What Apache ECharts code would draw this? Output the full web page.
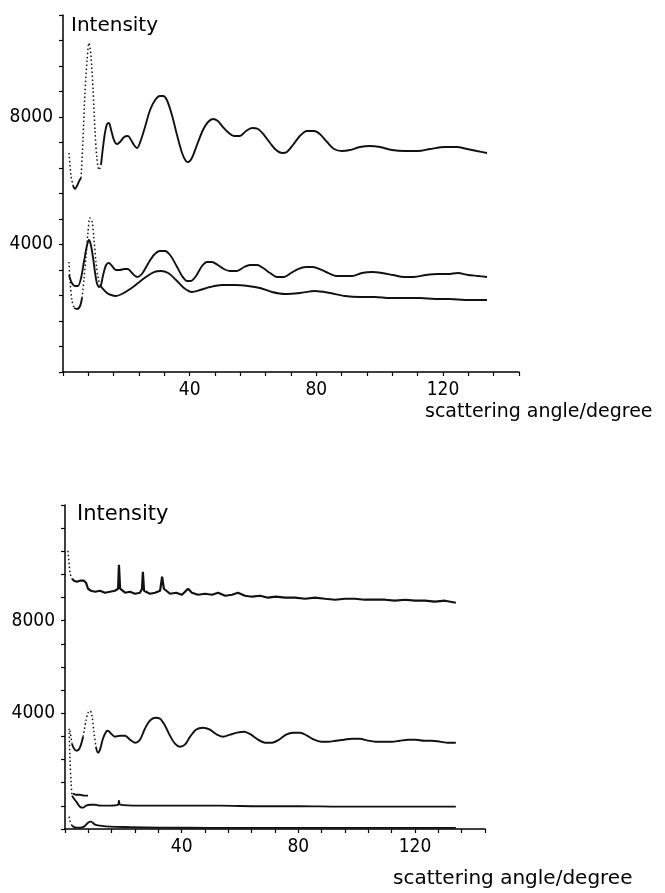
<!DOCTYPE html>
<html><head><meta charset="utf-8">
<script src="https://cdn.jsdelivr.net/npm/echarts@6/dist/echarts.min.js"></script>
<style>html,body{margin:0;padding:0;background:#fff}#c{width:665px;height:893px}</style>
</head><body><div id="c"></div>
<script>
// ---------- DATA (scattering angle in degrees, intensity) ----------
const xTickLabels = [40, 80, 120];
const topYTickLabels = [4000, 8000];
const bottomYTickLabels = [4000, 8000];

// Top panel, upper curve
const topUpperAngle = [1.9,2.5,3.2,3.8,4.4,5.1,5.7,6.3,6.9,7.6,8.2,8.8,9.5,10.1,10.7,11.4,12.0,12.6,13.3,13.9,14.5,15.2,16.1,17.1,18.0,19.3,20.5,21.5,22.4,23.4,24.6,25.9,27.5,29.1,30.6,31.6,32.8,34.4,36.0,37.6,38.8,39.5,40.7,42.3,44.2,45.8,47.4,48.9,50.5,52.4,54.0,55.9,57.8,59.7,61.6,63.5,65.4,67.3,69.2,70.7,72.6,74.8,77.0,79.3,81.1,83.4,85.6,88.1,90.6,93.8,96.9,100.1,103.9,108.0,112.1,115.9,120.6,124.4,127.6,130.7,133.9];
const topUpperValue = [6870,6180,5835,5741,5835,5990,6086,7278,8690,9787,10321,9944,8846,7592,6713,6337,6494,7027,7529,7780,7811,7592,7278,7152,7215,7372,7403,7278,7121,7027,7278,7686,8219,8533,8658,8658,8533,8062,7435,6870,6619,6588,6713,7121,7592,7843,7937,7874,7686,7497,7403,7403,7560,7654,7623,7435,7184,6964,6870,6901,7121,7403,7560,7560,7466,7215,6995,6933,6964,7058,7090,7058,6964,6933,6933,6995,7058,7058,6995,6933,6870];

// Top panel, middle curve
const topMiddleAngle = [1.9,2.8,3.8,4.7,5.7,6.6,7.6,8.2,8.8,9.5,10.1,10.7,11.4,12.0,12.6,13.6,14.5,15.5,16.7,18.0,19.3,20.5,21.8,23.4,24.9,26.8,28.7,30.6,32.2,33.8,35.7,37.6,39.2,40.4,42.0,43.9,45.5,47.0,48.9,50.8,52.7,54.9,57.2,59.0,61.3,63.2,65.4,67.6,69.8,72.0,74.2,76.7,78.9,81.1,83.7,86.2,88.7,91.3,94.4,97.6,100.7,104.2,107.7,110.8,114.6,118.4,121.6,124.7,127.9,131.0,133.9];
const topMiddleValue = [3043,2792,2698,2698,2949,3451,3984,4141,3984,3576,3137,2792,2666,2729,3012,3357,3419,3325,3200,3200,3231,3231,3106,2980,3074,3388,3670,3796,3796,3670,3357,3012,2855,2855,3012,3325,3451,3451,3357,3231,3168,3168,3294,3357,3357,3262,3106,2980,2980,3106,3231,3294,3294,3231,3106,3012,3012,3012,3106,3137,3106,3043,2980,2980,3043,3074,3074,3106,3043,3012,2980];

// Top panel, lower curve
const topLowerAngle = [1.9,2.2,2.8,3.5,4.4,5.4,6.0,6.6,7.3,7.9,8.5,9.2,9.8,10.4,11.1,11.7,12.6,13.9,15.2,16.7,18.6,21.2,23.7,26.2,28.7,30.9,33.2,35.7,38.2,40.7,43.3,46.4,50.2,54.3,58.4,62.2,66.0,70.1,74.8,79.6,84.3,89.0,93.8,98.5,103.3,108.0,112.7,117.5,122.2,126.9,130.7,133.9];
const topLowerValue = [3451,2886,2259,2008,1976,2070,2321,2886,3670,4392,4831,4706,4141,3451,2949,2729,2604,2478,2415,2384,2447,2604,2792,2980,3137,3168,3106,2886,2635,2510,2572,2666,2729,2729,2698,2635,2510,2447,2478,2541,2478,2384,2353,2353,2321,2321,2321,2290,2290,2259,2259,2259];

// Bottom panel, upper (noisy) curve
const botUpperAngle = [1.0,1.4,1.7,2.4,3.1,4.1,5.1,6.5,7.2,7.9,8.9,10.3,12.0,13.7,15.4,17.1,18.2,18.5,18.9,20.6,22.3,24.0,25.7,26.4,26.7,27.1,29.1,30.9,32.6,33.3,33.9,36.0,38.1,40.1,42.2,43.5,45.6,48.0,50.4,52.5,54.9,57.3,59.3,61.7,64.1,66.9,69.6,72.3,75.4,78.9,82.3,85.7,89.1,92.6,96.0,99.4,102.8,106.3,109.7,113.1,116.6,120.0,123.4,126.8,130.3,134.0];
const botUpperValue = [11024,10462,10030,9814,9728,9685,9728,9728,9642,9382,9296,9253,9296,9210,9253,9296,9382,10419,9382,9210,9253,9166,9210,9382,10117,9296,9166,9210,9296,9901,9382,9166,9210,9123,9382,9210,9123,9166,9123,9210,9080,9123,9210,9080,9037,9080,8994,9037,8994,8994,8950,8994,8950,8907,8950,8950,8907,8907,8907,8864,8907,8864,8864,8821,8864,8778];

// Bottom panel, oscillating curve
const botMiddleAngle = [1.7,2.4,3.1,4.1,5.1,6.2,7.2,7.9,8.6,9.3,9.9,10.6,11.3,12.0,13.0,14.1,14.7,15.8,17.1,18.9,20.6,22.3,24.0,25.7,27.4,29.1,30.9,32.6,34.3,36.0,37.7,39.4,41.1,42.9,44.9,47.3,49.7,52.1,54.2,56.6,59.0,61.4,63.8,66.2,68.6,71.0,73.4,75.8,78.2,80.6,83.0,85.4,87.8,90.2,92.9,95.7,98.4,101.1,103.9,106.6,109.4,112.1,114.8,117.6,120.3,123.1,125.8,128.6,131.3,134.0];
const botMiddleValue = [3248,2686,2470,2384,2514,2989,3680,4026,4112,3853,3205,2557,2298,2427,2902,3205,3248,3118,2989,3032,3032,2859,2730,2859,3334,3680,3810,3766,3464,3032,2686,2557,2643,2989,3291,3378,3291,3075,2989,3075,3162,3205,3075,2859,2730,2730,2859,3075,3162,3162,3032,2859,2773,2773,2816,2859,2902,2902,2816,2773,2773,2773,2816,2859,2859,2816,2816,2773,2730,2730];

// Bottom panel, near-zero curve
const botLowAngle = [1.4,1.7,2.1,2.4,3.1,4.1,5.1,6.2,7.2,8.6,10.3,12.0,15.4,18.2,18.5,18.9,25.7,39.4,53.1,66.9,80.6,94.3,108.0,121.7,134.0];
const botLowValue = [3334,2038,958,440,310,138,-35,-78,8,51,51,8,8,51,224,51,8,8,8,-14,-14,-35,-35,-35,-35];

// Bottom panel, short branch
const botShortAngle = [2.7,3.8,5.1,6.5,7.9];
const botShortValue = [526,483,483,440,440];

// Bottom panel, lowest curve (along the axis)
const botLowestAngle = [1.4,1.7,2.4,3.8,5.1,6.5,7.9,8.9,10.3,12.0,15.4,22.3,32.6,50.0,70.0,90.0,110.0,134.0];
const botLowestValue = [-467,-640,-856,-942,-942,-899,-726,-683,-813,-856,-899,-920,-942,-950,-950,-950,-950,-950];

// ---------- STYLE (which angle ranges are drawn dotted) ----------
const dottedRanges = {
  topUpper: [[1.9,3.2],[5.7,12.0]],
  topMiddle: [],
  topLower: [[1.9,3.5],[6.0,11.7]],
  botUpper: [[1.0,2.4]],
  botMiddle: [[1.7,2.4],[6.2,10.6]],
  botLow: [[1.4,2.4]],
  botShort: [],
  botLowest: [[1.4,2.4]]
};

function buildSegments(ang, val, ranges) {
  const inDotted = a => ranges.some(r => a >= r[0] && a <= r[1]);
  const segs = [];
  let cur = null;
  for (let i = 0; i < ang.length - 1; i++) {
    const d = inDotted((ang[i] + ang[i + 1]) / 2);
    if (!cur || cur.dotted !== d) { cur = { dotted: d, data: [[ang[i], val[i]]] }; segs.push(cur); }
    cur.data.push([ang[i + 1], val[i + 1]]);
  }
  return segs;
}

const curves = [
  { a: topUpperAngle, v: topUpperValue, r: dottedRanges.topUpper, g: 0 },
  { a: topMiddleAngle, v: topMiddleValue, r: dottedRanges.topMiddle, g: 0 },
  { a: topLowerAngle, v: topLowerValue, r: dottedRanges.topLower, g: 0 },
  { a: botUpperAngle, v: botUpperValue, r: dottedRanges.botUpper, g: 1, noisy: true },
  { a: botMiddleAngle, v: botMiddleValue, r: dottedRanges.botMiddle, g: 1 },
  { a: botLowAngle, v: botLowValue, r: dottedRanges.botLow, g: 1 },
  { a: botShortAngle, v: botShortValue, r: dottedRanges.botShort, g: 1 },
  { a: botLowestAngle, v: botLowestValue, r: dottedRanges.botLowest, g: 1 }
];

const series = [];
curves.forEach(c => {
  buildSegments(c.a, c.v, c.r).forEach(s => {
    series.push({
      type: 'line', xAxisIndex: c.g, yAxisIndex: c.g, data: s.data,
      showSymbol: false, smooth: c.noisy ? 0 : 0.3, silent: true, clip: false,
      lineStyle: { color: '#111', width: s.dotted ? 1.5 : (c.noisy ? 2.2 : 1.9), type: s.dotted ? [1.5, 2.5] : 'solid' }
    });
  });
});

const digitFont = "'Liberation Sans Narrow', 'DejaVu Sans Condensed', sans-serif";
function xAxis(gi) {
  return {
    type: 'value', gridIndex: gi, min: 0, max: 144, interval: 8,
    axisLine: { show: true, onZero: false, lineStyle: { color: '#000', width: 1.5 } },
    axisTick: { show: true, inside: false, length: 4, lineStyle: { color: '#000', width: 1.2 } },
    splitLine: { show: false },
    axisLabel: { margin: 9, color: '#000', fontSize: 19, fontFamily: digitFont,
      formatter: v => xTickLabels.indexOf(v) >= 0 ? String(v) : '' , showMinLabel: true, showMaxLabel: true }
  };
}
function yAxis(gi, min, max, interval, labels) {
  return {
    type: 'value', gridIndex: gi, min: min, max: max, interval: interval,
    axisLine: { show: true, onZero: false, lineStyle: { color: '#000', width: 1.5 } },
    axisTick: { show: true, inside: false, length: 4, lineStyle: { color: '#000', width: 1.2 } },
    splitLine: { show: false },
    axisLabel: { margin: 10, color: '#000', fontSize: 19, fontFamily: digitFont,
      formatter: v => labels.indexOf(v) >= 0 ? String(v) : '' }
  };
}

const chart = echarts.init(document.getElementById('c'), null, { renderer: 'canvas' });
chart.setOption({
  animation: false,
  backgroundColor: '#fff',
  grid: [
    { left: 63, top: 15, right: 146, bottom: 521 },
    { left: 65, top: 505, right: 180, bottom: 64 }
  ],
  xAxis: [xAxis(0), xAxis(1)],
  yAxis: [yAxis(0, 0, 11200, 800, topYTickLabels), yAxis(1, -1000, 13000, 1000, bottomYTickLabels)],
  graphic: [
    { type: 'text', left: 71, top: 16, style: { text: 'Intensity', font: '20px "DejaVu Sans"', fill: '#000' } },
    { type: 'text', left: 77, top: 504, style: { text: 'Intensity', font: '21px "DejaVu Sans"', fill: '#000' } },
    { type: 'text', left: 425, top: 403, style: { text: 'scattering angle/degree', font: '19px "DejaVu Sans"', fill: '#000' } },
    { type: 'text', left: 393, top: 869, style: { text: 'scattering angle/degree', font: '20px "DejaVu Sans"', fill: '#000' } }
  ],
  series: series
});
</script>
</body></html>
